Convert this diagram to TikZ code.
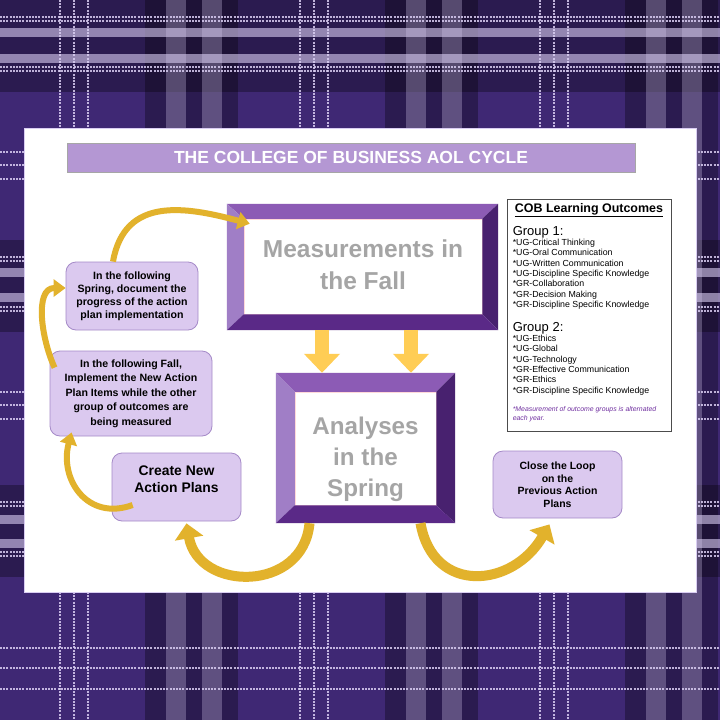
\documentclass[tikz,border=0pt]{standalone}
\usepackage{fontspec}
\setmainfont{Liberation Sans}
\usetikzlibrary{arrows.meta, positioning, calc}

\definecolor{plaidbase}{HTML}{3F2874}
\definecolor{stripe}{HTML}{D9CDF2}
\definecolor{boxfill}{HTML}{DBC9EF}
\definecolor{boxline}{HTML}{A58AC8}
\definecolor{titlefill}{HTML}{B497D3}
\definecolor{bevtop}{HTML}{8C5BB5}
\definecolor{bevleft}{HTML}{A07EC6}
\definecolor{bevright}{HTML}{48216F}
\definecolor{bevbot}{HTML}{5A2987}
\definecolor{framegray}{HTML}{A5A5A5}
\definecolor{arrowgold}{HTML}{E2B22C}
\definecolor{downgold}{HTML}{FFCD55}
\definecolor{notepurple}{HTML}{7030A0}

\begin{document}
\begin{tikzpicture}[x=1pt, y=1pt,
    thinstripe/.style={stripe, line width=2pt, opacity=0.85, dash pattern=on 2pt off 1.2pt},
    thickstripe/.style={stripe, line width=9pt, opacity=0.6},
    widestripe/.style={stripe, line width=20pt, opacity=0.3},
    darkband/.style={fill=black, opacity=0.3},
    titlebar/.style={fill=titlefill, draw=gray!70, line width=0.6pt, minimum width=568pt, minimum height=29pt,
        text=white, font=\bfseries\fontsize{17.5}{20}\selectfont},
    frameout/.style={inner sep=0pt},
    framein/.style={fill=white, draw=red!15, line width=0.5pt, inner sep=0pt},
    frametext/.style={align=center, text=framegray, inner sep=0pt},
    actbox/.style={draw=boxline, fill=boxfill, rounded corners=10pt, line width=0.8pt, align=center,
        inner sep=0pt, font=\bfseries\fontsize{10.6}{13}\selectfont},
    outbox/.style={draw=black!70, fill=white, line width=0.8pt, minimum width=164pt, minimum height=232pt},
    curvearrow/.style={draw=arrowgold, line width=6pt, -{Triangle[width=17pt,length=12pt]}},
    bigcurve/.style={draw=arrowgold, line width=10pt, -{Triangle[width=28pt,length=15pt]}},
    downarrow/.style={draw=downgold, line width=14pt, -{Triangle[width=35pt,length=19pt]}}
  ]
  \useasboundingbox (0,0) rectangle (720,-720);

  % tartan background
  \begin{scope}
    \clip (0,0) rectangle (720,-720);
    \fill[plaidbase] (0,0) rectangle (720,-720);
    \foreach \y in {0,240,485}
      \fill[darkband] (0,-\y) rectangle (720,-\y-92);
    \foreach \k in {0,240,480}
      \fill[darkband] (\k+145,0) rectangle (\k+238,-720);
    \foreach \y in {17,21,67,71,152,165,179,257,261,307,311,392,405,419,502,506,552,556,648,668,689}
      \draw[thinstripe] (0,-\y) -- (720,-\y);
    \foreach \y in {32,58,272,297,519,543}
      \draw[thickstripe] (0,-\y) -- (720,-\y);
    \foreach \k in {0,240,480} {
      \foreach \t in {60,74,88}
        \draw[thinstripe] (\k+\t,0) -- (\k+\t,-720);
      \foreach \t in {176,212}
        \draw[widestripe] (\k+\t,0) -- (\k+\t,-720);
    }
  \end{scope}

  % white sheet
  \fill[white, draw=stripe, line width=0.8pt] (24,-128) rectangle (696,-592);

  \node[titlebar] (title) at (351,-157.5) {THE COLLEGE OF BUSINESS AOL CYCLE};

  % bevelled frames
  \node[frameout, minimum width=271pt, minimum height=126pt] (meas-o) at (362.5,-267) {};
  \node[frameout, minimum width=179pt, minimum height=150pt] (ana-o) at (365.5,-448) {};
  \node[framein, minimum width=238pt, minimum height=95pt] (meas-i) at (363,-266.5) {};
  \node[framein, minimum width=141pt, minimum height=113pt] (ana-i) at (365.5,-448.5) {};
  \foreach \f in {meas,ana} {
    \fill[bevtop] (\f-o.north west) -- (\f-o.north east) -- (\f-i.north east) -- (\f-i.north west) -- cycle;
    \fill[bevleft] (\f-o.north west) -- (\f-i.north west) -- (\f-i.south west) -- (\f-o.south west) -- cycle;
    \fill[bevright] (\f-o.north east) -- (\f-o.south east) -- (\f-i.south east) -- (\f-i.north east) -- cycle;
    \fill[bevbot] (\f-o.south west) -- (\f-i.south west) -- (\f-i.south east) -- (\f-o.south east) -- cycle;
  }
  \node[frametext, font=\bfseries\fontsize{24.5}{31.5}\selectfont] (meas-t)
    at ([yshift=2pt]meas-i.center) {Measurements in\\the Fall};
  \node[frametext, font=\bfseries\fontsize{24.2}{31}\selectfont] (ana-t)
    at ([yshift=-11pt]ana-i.center) {Analyses\\in the\\Spring};

  % action boxes
  \node[actbox, minimum width=132pt, minimum height=68pt] (spring) at (132,-296)
    {In the following\\Spring, document the\\progress of the action\\plan implementation};
  \node[actbox, minimum width=162pt, minimum height=85pt, font=\bfseries\fontsize{10.6}{14.5}\selectfont]
    (fall) at (131,-393.5)
    {In the following Fall,\\Implement the New Action\\Plan Items while the other\\group of outcomes are\\being measured};
  \node[actbox, minimum width=129pt, minimum height=68pt] (create) at (176.5,-487) {};
  \node[align=center, font=\bfseries\fontsize{13.9}{17}\selectfont, anchor=north]
    (createtxt) at ([yshift=-10pt]create.north) {Create New\\Action Plans};
  \node[actbox, minimum width=129pt, minimum height=67pt, font=\bfseries\fontsize{10.5}{12.5}\selectfont]
    (close) at (557.5,-484.5) {Close the Loop\\on the\\Previous Action\\Plans};

  % learning outcomes
  \node[outbox] (outc) at (589,-315) {};
  \node[anchor=base, font=\bfseries\fontsize{12.45}{14}\selectfont] (cobhead)
    at ([yshift=-14pt]outc.north) {\underline{COB Learning Outcomes}};
  \node[anchor=north west, align=left, inner sep=0pt, font=\fontsize{8.8}{10.3}\selectfont] (grp1)
    at ([xshift=6pt,yshift=-27.5pt]outc.north west)
    {{\fontsize{13}{13}\selectfont Group 1:}\\*UG-Critical Thinking\\*UG-Oral Communication\\*UG-Written Communication\\
     *UG-Discipline Specific Knowledge\\*GR-Collaboration\\*GR-Decision Making\\*GR-Discipline Specific Knowledge};
  \node[below=12.5pt of grp1.south west, anchor=north west, align=left, inner sep=0pt,
        font=\fontsize{8.8}{10.3}\selectfont] (grp2)
    {{\fontsize{13}{13}\selectfont Group 2:}\\*UG-Ethics\\*UG-Global\\*UG-Technology\\
     *GR-Effective Communication\\*GR-Ethics\\*GR-Discipline Specific Knowledge};
  \node[below=11pt of grp2.south west, anchor=north west, align=left, inner sep=0pt, text=notepurple,
        font=\itshape\fontsize{6.9}{8.7}\selectfont] (note)
    {*Measurement of outcome groups is alternated\\each year.};

  % arrows between the frames
  \coordinate (d1) at ([xshift=-40.5pt]meas-o.south);
  \coordinate (d2) at ([xshift=48.5pt]meas-o.south);
  \draw[downarrow] (d1) -- (d1 |- ana-o.north);
  \draw[downarrow] (d2) -- (d2 |- ana-o.north);

  % cycle arrows
  \draw[curvearrow] ([xshift=-19pt]spring.north) to[out=80, in=165, looseness=1.2]
    ([xshift=6pt,yshift=-5pt]meas-i.north west);
  \draw[curvearrow] ([xshift=5pt,yshift=-17pt]fall.north west) to[out=115, in=180]
    ([yshift=8pt]spring.west);
  \draw[curvearrow] ([xshift=21pt,yshift=-18pt]create.west) to[out=200, in=-105, looseness=1.3]
    ([xshift=22pt,yshift=4pt]fall.south west);
  \draw[bigcurve] ([xshift=-56pt]ana-o.south) to[out=-95, in=-80, looseness=1.45]
    ([xshift=10pt,yshift=-2pt]create.south);
  \draw[bigcurve] ([xshift=55pt]ana-o.south) to[out=-80, in=-120, looseness=1.45]
    ([xshift=-8pt,yshift=-6pt]close.south);
\end{tikzpicture}
\end{document}
